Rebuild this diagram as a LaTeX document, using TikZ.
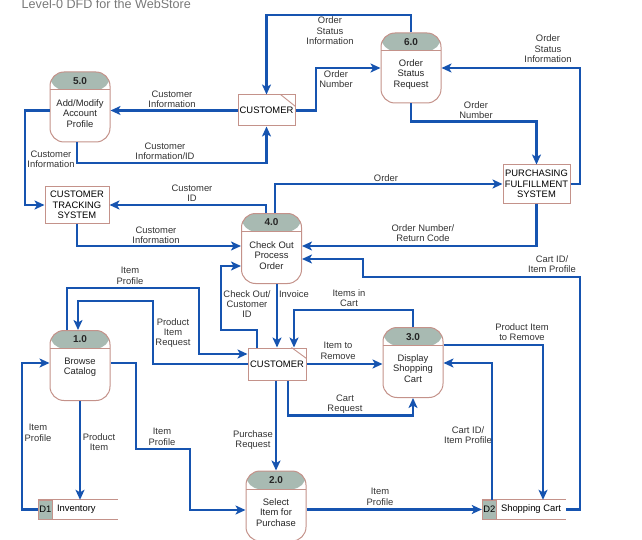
\documentclass[tikz,border=0pt]{standalone}
\usepackage{fontspec}
\setmainfont{Liberation Sans}
\usetikzlibrary{arrows.meta,calc}
\definecolor{flowc}{RGB}{22,84,176}
\definecolor{bd}{RGB}{196,146,138}
\definecolor{hdr}{RGB}{168,186,178}
\definecolor{titlec}{RGB}{120,120,120}
\begin{document}
\begin{tikzpicture}[x=1pt,y=-1pt,
 every node/.style={font=\fontsize{9.4}{10.4}\selectfont},
 proc/.style={draw=bd, line width=1pt, fill=white, rounded corners=14pt,
   minimum width=60pt, minimum height=70pt, inner sep=0pt,
   path picture={\fill[hdr] (path picture bounding box.north west) rectangle ([yshift=-18pt]path picture bounding box.north east);
     \draw[bd, line width=1pt] ([yshift=-18pt]path picture bounding box.north west) -- ([yshift=-18pt]path picture bounding box.north east);}},
 ent/.style={draw=bd, line width=1pt, fill=white, inner sep=0pt, align=center},
 fold/.style={draw=bd, line width=0.9pt},
 dsid/.style={draw=bd, line width=1pt, fill=hdr, minimum width=14pt, minimum height=19pt, inner sep=0pt},
 dsline/.style={draw=bd, line width=1pt},
 flow/.style={draw=flowc, line width=2.2pt, -{Stealth[length=10pt,width=9pt,inset=2.5pt]}},
 lbl/.style={align=center, inner sep=0pt, text=black!80},
 num/.style={font=\fontsize{10}{11}\selectfont\bfseries, inner sep=0pt, text=black!85},
 ptxt/.style={align=center, inner sep=0pt, text=black!85}]
\useasboundingbox (0,0) rectangle (642,540);

% title
\node[anchor=base west, inner sep=0pt, text=titlec, font=\fontsize{12.6}{14}\selectfont] (title) at (21.5,8.5) {Level-0 DFD for the WebStore};

% processes
\node[proc] (p5) at (80,107) {};
\node[num] (n5) at (80,81) {5.0};
\node[ptxt] (t5) at (80,113.5) {Add/Modify\\Account\\Profile};

\node[proc] (p6) at (411,68) {};
\node[num] (n6) at (411,42) {6.0};
\node[ptxt] (t6) at (411,74.5) {Order\\Status\\Request};

\node[proc] (p4) at (271.5,248.5) {};
\node[num] (n4) at (271.5,222) {4.0};
\node[ptxt] (t4) at (271.5,255.5) {Check Out\\Process\\Order};

\node[proc] (p3) at (413,362.5) {};
\node[num] (n3) at (413,337) {3.0};
\node[ptxt] (t3) at (413,368.5) {Display\\Shopping\\Cart};

\node[proc] (p1) at (80,365.5) {};
\node[num] (n1) at (80,339.5) {1.0};
\node[ptxt] (t1) at (80,367) {Browse\\Catalog};

\node[proc] (p2) at (276,506) {};
\node[num] (n2) at (276,480) {2.0};
\node[ptxt] (t2) at (276,512.5) {Select\\Item for\\Purchase};

% entities
\node[ent, minimum width=57pt, minimum height=31pt] (c1) at (266.5,110.5) {CUSTOMER};
\draw[fold] ([xshift=-15pt]c1.north east) -- ([yshift=-12pt]c1.north east);
\node[ent, minimum width=58pt, minimum height=32pt] (c2) at (277,364) {CUSTOMER};
\draw[fold] ([xshift=-15pt]c2.north east) -- ([yshift=-11pt]c2.north east);
\node[ent, minimum width=64pt, minimum height=36pt] (cts) at (77,205) {CUSTOMER\\TRACKING\\SYSTEM};
\node[ent, minimum width=67pt, minimum height=38pt] (pfs) at (536.5,184) {PURCHASING\\FULFILLMENT\\SYSTEM};

% data stores
\node[minimum width=80pt, minimum height=19pt, inner sep=0pt] (d1) at (78,509.5) {};
\draw[dsline] (d1.north west) -- (d1.north east);
\draw[dsline] (d1.south west) -- (d1.south east);
\node[dsid, anchor=west] (d1id) at (d1.west) {D1};
\node[anchor=west, inner sep=0pt] (d1t) at ([xshift=4pt]d1id.east) {Inventory};

\node[minimum width=84pt, minimum height=19pt, inner sep=0pt] (d2) at (524,509.5) {};
\draw[dsline] (d2.north west) -- (d2.north east);
\draw[dsline] (d2.south west) -- (d2.south east);
\node[dsid, anchor=west] (d2id) at (d2.west) {D2};
\node[anchor=west, inner sep=0pt] (d2t) at ([xshift=4pt]d2id.east) {Shopping Cart};

% flows
\draw[flow] (p6.north) |- (266.5,15) -- (c1.north);
\draw[flow] (c1.east) -| (316,68) -- (p6.west);
\draw[flow] (c1.west) -- (c1.west -| p5.east);
\draw[flow] ([xshift=-3pt]p5.south) |- (266.5,163) -- (c1.south);
\draw[flow] (p5.west |- c1.west) -| (25,205) -- (cts.west);
\draw[flow] ([xshift=-5.5pt]p4.north) |- (cts.east);
\draw[flow] ([xshift=3.5pt]p4.north) |- (pfs.west);
\draw[flow] (p6.south) -- ++(0,18) -| (pfs.north);
\draw[flow] (pfs.east) -| (580,68) -- (p6.east);
\draw[flow] (pfs.south) |- ([yshift=2.5pt]p4.east);
\draw[flow] (cts.south) |- ([yshift=2.5pt]p4.west);
\draw[flow] (d2.east) -| (580,277) -| (363,259) -- ([yshift=-10.5pt]p4.east);
\draw[flow] ([xshift=-20pt]c2.north) |- (221,330) |- ([yshift=-17.5pt]p4.west);
\draw[flow] (p4.south -| c2.north) -- (c2.north);
\draw[flow] (p3.north) -- ++(0,-17) -| ([xshift=17pt]c2.north);
\draw[flow] (c2.east) -- (c2.east -| p3.west);
\draw[flow] ([xshift=11pt]c2.south) -- ++(0,35) -| (p3.south);
\draw[flow] ([yshift=17.5pt]p3.east) -| ([xshift=19pt]d2.north);
\draw[flow] ([xshift=-32pt]d2.north) |- ([yshift=-0.5pt]p3.east);
\draw[flow] (p2.east |- d2.west) -- (d2.west);
\draw[flow] (c2.south -| p2.north) -- (p2.north);
\draw[flow] ([xshift=-13pt]p1.north) |- (199,288) |- ([yshift=10pt]c2.west);
\draw[flow] (c2.west) -| (153,301) -| ([xshift=-2pt]p1.north);
\draw[flow] ([yshift=2.5pt]p1.east) -| (136,449) -| (190,510) -- ([yshift=-4pt]p2.west);
\draw[flow] (p1.south) -- (p1.south |- d1.north);
\draw[flow] (d1.west) -| (22,363) -- ([yshift=2.5pt]p1.west);

% labels
\node[lbl] (l1) at (330,31) {Order\\Status\\Information};
\node[lbl] (l2) at (336,79) {Order\\Number};
\node[lbl] (l3) at (172,99) {Customer\\Information};
\node[lbl] (l4) at (165,151) {Customer\\Information/ID};
\node[lbl] (l5) at (51,159) {Customer\\Information};
\node[lbl] (l6) at (192,193) {Customer\\ID};
\node[lbl] (l7) at (386,178) {Order};
\node[lbl] (l8) at (476,110) {Order\\Number};
\node[lbl] (l9) at (548,49) {Order\\Status\\Information};
\node[lbl] (l10) at (423,233) {Order Number/\\Return Code};
\node[lbl] (l11) at (156,235) {Customer\\Information};
\node[lbl] (l12) at (552,264) {Cart ID/\\Item Profile};
\node[lbl] (l13) at (247,304) {Check Out/\\Customer\\ID};
\node[lbl] (l14) at (294,294) {Invoice};
\node[lbl] (l15) at (349,298) {Items in\\Cart};
\node[lbl] (l16) at (338,351) {Item to\\Remove};
\node[lbl] (l17) at (345,404) {Cart\\Request};
\node[lbl] (l18) at (522,332) {Product Item\\to Remove};
\node[lbl] (l19) at (468,435) {Cart ID/\\Item Profile};
\node[lbl] (l20) at (380,497) {Item\\Profile};
\node[lbl] (l21) at (253,440) {Purchase\\Request};
\node[lbl] (l22) at (130,276) {Item\\Profile};
\node[lbl] (l23) at (173,333) {Product\\Item\\Request};
\node[lbl] (l24) at (162,437) {Item\\Profile};
\node[lbl] (l25) at (99,442) {Product\\Item};
\node[lbl] (l26) at (38,433) {Item\\Profile};
\end{tikzpicture}
\end{document}
